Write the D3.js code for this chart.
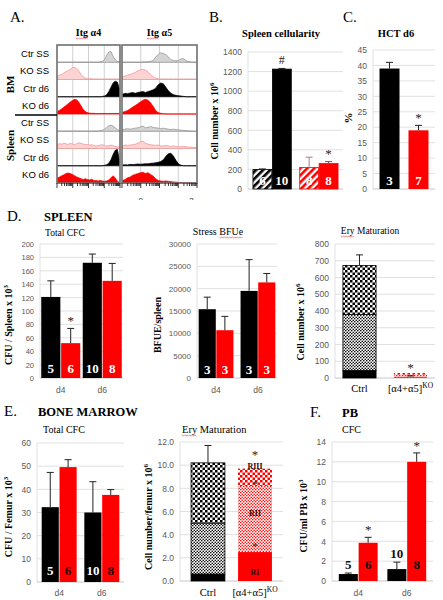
<!DOCTYPE html>
<html><head><meta charset="utf-8">
<script src="https://cdn.jsdelivr.net/npm/d3@7"></script>
<style>body{margin:0;background:#fff}svg{display:block}</style>
</head><body><svg id="c" width="443" height="600"></svg>
<script>
// ---------------- DATA ----------------
// Panel A: flow histograms (relative heights per bin)
const histMarkers = ["Itg α4", "Itg α5"];
const histRows = ["Ctr SS", "KO SS", "Ctr d6", "KO d6", "Ctr SS", "KO SS", "Ctr d6", "KO d6"];
const histTissues = ["BM", "Spleen"];
const a4BmCtrSS = [0,0,0,0,0,0,0,0,0,0,0,0,0,0,0,0,0,0,0,0,0.02,0.05,0.15,0.4,0.6,0.62,0.35,0.15,0.05,0.02];
const a4BmKoSS  = [0.2,0.25,0.3,0.38,0.45,0.52,0.6,0.68,0.7,0.62,0.48,0.3,0.15,0.08,0.05,0.04,0.04,0.03,0.03,0.03,0.03,0.03,0.03,0.03,0.03,0.03,0.03,0.03,0.03,0.03];
const a4BmCtrD6 = [0,0,0,0,0,0,0,0,0,0,0,0,0,0,0,0,0,0,0,0,0,0.02,0.05,0.12,0.3,0.55,0.8,0.9,0.85,0.45];
const a4BmKoD6  = [0.15,0.22,0.3,0.4,0.5,0.6,0.7,0.78,0.85,0.82,0.68,0.48,0.28,0.14,0.08,0.05,0.04,0.04,0.03,0.03,0.03,0.03,0.03,0.03,0.03,0.03,0.03,0.03,0.03,0.03];
const a4SpCtrSS = [0.01,0.01,0.01,0.01,0.01,0.01,0.01,0.01,0.01,0.01,0.01,0.01,0.01,0.01,0.01,0.01,0.01,0.01,0.01,0.01,0.03,0.06,0.12,0.22,0.32,0.35,0.3,0.2,0.1,0.04];
const a4SpKoSS  = [0.22,0.28,0.25,0.3,0.27,0.24,0.3,0.26,0.22,0.28,0.33,0.3,0.26,0.22,0.24,0.2,0.22,0.17,0.14,0.16,0.2,0.22,0.17,0.14,0.16,0.2,0.17,0.12,0.1,0.08];
const a4SpCtrD6 = [0,0,0,0,0,0,0,0,0,0,0,0,0,0,0,0,0,0,0,0,0,0,0.03,0.06,0.15,0.35,0.65,0.9,0.95,0.3];
const a4SpKoD6  = [0.3,0.35,0.42,0.48,0.55,0.58,0.55,0.5,0.42,0.35,0.3,0.25,0.2,0.25,0.2,0.18,0.22,0.15,0.15,0.12,0.15,0.12,0.1,0.12,0.18,0.3,0.42,0.3,0.1,0.04];
const a5BmCtrSS = [0,0,0,0,0,0,0,0,0.02,0.02,0.03,0.05,0.1,0.3,0.45,0.55,0.5,0.45,0.3,0.15,0.1,0.08,0.1,0.2,0.2,0.08,0.03,0.01,0,0];
const a5BmKoSS  = [0.15,0.2,0.25,0.3,0.35,0.42,0.5,0.55,0.6,0.55,0.45,0.3,0.15,0.07,0.04,0.03,0.03,0.03,0.03,0.03,0.03,0.03,0.03,0.03,0.03,0.03,0.03,0.03,0.03,0.03];
const a5BmCtrD6 = [0.15,0.2,0.18,0.22,0.25,0.2,0.25,0.28,0.3,0.25,0.3,0.35,0.4,0.5,0.7,0.8,0.75,0.55,0.35,0.2,0.12,0.08,0.06,0.04,0.02,0,0,0,0,0];
const a5BmKoD6  = [0.1,0.15,0.2,0.3,0.4,0.5,0.6,0.7,0.8,0.85,0.8,0.65,0.45,0.2,0.08,0.04,0.02,0,0,0,0,0,0,0,0,0,0,0,0,0];
const a5SpCtrSS = [0.1,0.12,0.15,0.12,0.15,0.18,0.2,0.25,0.3,0.2,0.22,0.28,0.22,0.2,0.18,0.15,0.18,0.15,0.12,0.1,0.12,0.1,0.08,0.06,0.05,0.03,0.02,0.01,0,0];
const a5SpKoSS  = [0.15,0.2,0.18,0.2,0.22,0.25,0.3,0.38,0.42,0.3,0.25,0.22,0.2,0.18,0.2,0.15,0.15,0.18,0.15,0.12,0.15,0.12,0.1,0.1,0.12,0.1,0.08,0.08,0.06,0.05];
const a5SpCtrD6 = [0.05,0.06,0.05,0.08,0.07,0.08,0.1,0.09,0.1,0.12,0.11,0.14,0.15,0.18,0.2,0.25,0.35,0.55,0.7,0.72,0.55,0.3,0.1,0.03,0,0,0,0,0,0];
const a5SpKoD6  = [0.15,0.2,0.3,0.35,0.45,0.5,0.55,0.6,0.62,0.55,0.6,0.5,0.4,0.25,0.15,0.12,0.1,0.12,0.1,0.08,0.06,0.05,0.03,0.02,0,0,0,0,0,0];

// Panel B: spleen cellularity
const condGroups = ["Ctr", "KO"];
const timeSeries = ["SS", "d6"];
const spleenCell = [200, 1225, 220, 260];
const spleenCellErr = [205, 1232, 325, 280];
const spleenCellN = ["6", "10", "8", "8"];
const spleenCellSig = ["", "#", "", "*"];
// Panel C: HCT d6
const hctGroups = ["Ctr", "KO"];
const hctValues = [39, 19];
const hctErr = [41, 20.6];
const hctN = ["3", "7"];
const hctSig = ["", "*"];
// Panel D: spleen
const dayGroups = ["d4", "d6"];
const genoSeries = ["Ctr", "KO"];
const spleenCfc = [121, 52, 172, 145];
const spleenCfcErr = [145, 74, 185, 171];
const spleenCfcN = ["5", "6", "10", "8"];
const spleenCfcSig = ["", "*", "", ""];
const bfue = [15400, 10700, 19500, 21400];
const bfueErr = [18100, 13800, 26500, 23400];
const bfueN = ["3", "3", "3", "3"];
const eryCats = ["Ctrl", "KO"];
const eryStages = ["RI", "RII", "RIII"];
const spleenEryCtrl = [45, 335, 292];
const spleenEryKO = [5, 16, 9];
const spleenEryErr = [735, null];
// Panel E: bone marrow
const bmCfc = [32.3, 49.6, 30, 37.6];
const bmCfcErr = [47.3, 52.8, 43.3, 39.9];
const bmCfcN = ["5", "6", "10", "8"];
const bmEryCtrl = [0.6, 4.4, 5.2];
const bmEryKO = [2.5, 5.7, 1.5];
const bmEryErr = [11.7, null];
// Panel F: PB
const pbCfc = [0.7, 3.85, 1.2, 12.0];
const pbCfcErr = [0.8, 4.4, 1.9, 12.9];
const pbCfcN = ["5", "6", "10", "8"];
const pbCfcSig = ["", "*", "", "*"];

// ---------------- SETUP ----------------
const svg = d3.select("#c");
const SERIF = "'Liberation Serif','Times New Roman',serif";
const SANS = "'Liberation Sans',Arial,sans-serif";
const RED = "#ff0000";
const STAR = "#262626";
const defs = svg.append("defs");

function stripes(id, col){
  const p = defs.append("pattern").attr("id", id).attr("patternUnits","userSpaceOnUse")
    .attr("width",5).attr("height",5).attr("patternTransform","rotate(45)");
  p.append("rect").attr("width",5).attr("height",5).attr("fill","#fff");
  p.append("rect").attr("width",2.6).attr("height",5).attr("fill",col);
}
function checker(id, col, s){
  const p = defs.append("pattern").attr("id", id).attr("patternUnits","userSpaceOnUse")
    .attr("width",2*s).attr("height",2*s);
  p.append("rect").attr("width",2*s).attr("height",2*s).attr("fill","#fff");
  p.append("rect").attr("width",s).attr("height",s).attr("fill",col);
  p.append("rect").attr("x",s).attr("y",s).attr("width",s).attr("height",s).attr("fill",col);
}
function dots(id, col){
  const p = defs.append("pattern").attr("id", id).attr("patternUnits","userSpaceOnUse")
    .attr("width",3).attr("height",3);
  p.append("rect").attr("width",3).attr("height",3).attr("fill","#fff");
  p.append("circle").attr("cx",0.75).attr("cy",0.75).attr("r",0.8).attr("fill",col);
  p.append("circle").attr("cx",2.25).attr("cy",2.25).attr("r",0.8).attr("fill",col);
}
stripes("hatchK","#000"); stripes("hatchR",RED);
checker("checkK","#000",2.5); checker("checkR",RED,2.5);
dots("dotK","#000"); dots("dotR",RED);

function txt(x, y, s, o){
  o = o || {};
  return svg.append("text").attr("x",x).attr("y",y).text(s)
    .attr("font-family", o.family || SERIF).attr("font-size", o.size || 10)
    .attr("font-weight", o.bold ? "bold" : "normal").attr("fill", o.fill || "#000")
    .attr("text-anchor", o.anchor || "start");
}
function squiggle(x1, x2, y){
  const pts = [];
  for (let x = x1, k = 0; x <= x2; x += 1.3, k++) pts.push([x, y + (k % 2 ? 0.7 : -0.7)]);
  svg.append("path").attr("d", d3.line()(pts)).attr("fill","none").attr("stroke","#e23b3b").attr("stroke-width",0.6);
}
function underlineSub(t, start, len){
  const n = t.node(); const b = n.getBBox();
  const x1 = b.x + (start > 0 ? n.getSubStringLength(0, start) : 0);
  const x2 = x1 + n.getSubStringLength(start, len);
  squiggle(x1, x2, b.y + b.height + 0.5);
}
function rotLabel(x, y, main, sup, size){
  size = size || 10;
  const t = svg.append("text").attr("transform",`translate(${x},${y}) rotate(-90)`)
    .attr("text-anchor","middle").attr("font-family",SERIF).attr("font-weight","bold")
    .attr("font-size",size).attr("fill","#000");
  t.append("tspan").attr("dy","0.35em").text(main);
  if (sup) t.append("tspan").attr("font-size",size*0.7).attr("dy",-4).text(sup);
}

// ---------------- PANEL A ----------------
const histData = [
  [a4BmCtrSS, a4BmKoSS, a4BmCtrD6, a4BmKoD6, a4SpCtrSS, a4SpKoSS, a4SpCtrD6, a4SpKoD6],
  [a5BmCtrSS, a5BmKoSS, a5BmCtrD6, a5BmKoD6, a5SpCtrSS, a5SpKoSS, a5SpCtrD6, a5SpKoD6]
];
const rowStyle = [
  {fill:"#d4d4d4", stroke:"#8c8c8c"}, {fill:"#fbd3d3", stroke:"#f08c8c"},
  {fill:"#000", stroke:"#000"}, {fill:RED, stroke:RED}
];
const aTop = 45, aBot = 183;
const aBoxes = [[57,120],[122,197]];
const rowY = d3.scaleBand().domain(d3.range(histRows.length)).range([aTop, aBot]);
const aClip = defs.append("clipPath").attr("id","aclip");
aClip.append("rect").attr("x",0).attr("y",0).attr("width",443).attr("height",200);
const gA = svg.append("g").attr("clip-path","url(#aclip)");
histMarkers.forEach((m, mi) => {
  const [bx0, bx1] = aBoxes[mi];
  const lx = d3.scaleLog().domain([1, 1e4]).range([bx0, bx1]);
  gA.selectAll(null).data([10,100,1000]).join("line")
    .attr("x1",d=>lx(d)).attr("x2",d=>lx(d)).attr("y1",aTop).attr("y2",aBot)
    .attr("stroke","#c4c4c4").attr("stroke-width",0.8);
  gA.selectAll(null).data(d3.range(1, histRows.length)).join("line")
    .attr("x1",bx0).attr("x2",bx1).attr("y1",d=>rowY(d)).attr("y2",d=>rowY(d))
    .attr("stroke","#cfcfcf").attr("stroke-width",0.8);
  histData[mi].forEach((arr, ri) => {
    const base = rowY(ri) + rowY.bandwidth();
    const hx = d3.scaleLinear().domain([0, arr.length-1]).range([bx0+0.5, bx1-0.5]);
    const hy = d3.scaleLinear().domain([0,1]).range([base, base - rowY.bandwidth()]);
    const st = rowStyle[ri % 4];
    gA.append("path").datum(arr)
      .attr("d", d3.area().x((d,i)=>hx(i)).y0(base).y1(d=>hy(d)))
      .attr("fill", st.fill).attr("stroke", st.stroke).attr("stroke-width",0.7);
  });
  gA.append("rect").attr("x",bx0).attr("y",aTop).attr("width",bx1-bx0).attr("height",aBot-aTop)
    .attr("fill","none").attr("stroke","#6e6e6e").attr("stroke-width",1.6);
  gA.selectAll(null).data(lx.ticks()).join("line")
    .attr("x1",d=>lx(d)).attr("x2",d=>lx(d)).attr("y1",aBot)
    .attr("y2",d=> Math.abs(Math.log10(d) % 1) < 1e-9 ? aBot+5 : aBot+3)
    .attr("stroke","#222").attr("stroke-width",0.9);
  const t = txt((bx0+bx1)/2, 36, m, {bold:true, size:10, anchor:"middle"});
  underlineSub(t, 0, 3);
});
function lxPos(k){ return d3.scaleLinear().domain([0,4]).range(aBoxes[1])(k); }
gA.append("text").attr("x",lxPos(1)).attr("y",203).text("0").attr("font-family",SANS).attr("font-size",8).attr("fill","#333").attr("text-anchor","middle");
gA.append("text").attr("x",lxPos(3.7)).attr("y",203).text("2").attr("font-family",SANS).attr("font-size",8).attr("fill","#333").attr("text-anchor","middle");
histRows.forEach((r, ri) => {
  txt(49, rowY(ri) + rowY.bandwidth()/2 + 3.5, r, {family:SANS, size:9.5, anchor:"end"});
});
svg.append("line").attr("x1",15).attr("x2",57).attr("y1",rowY(4)+1).attr("y2",rowY(4)+1).attr("stroke","#000").attr("stroke-width",1.4);
rotLabel(10, (rowY(0)+rowY(4))/2 + 5, histTissues[0], null, 11);
rotLabel(10, (rowY(4)+aBot)/2 - 3, histTissues[1], null, 11);
txt(10, 22, "A.", {size:15});

// ---------------- generic bar helpers ----------------
function axisFrame(c){
  const y = d3.scaleLinear().domain([0, c.max]).range([c.yBot, c.yTop]);
  const tv = d3.range(0, c.max + c.step/2, c.step);
  const g = svg.append("g");
  g.selectAll(null).data(tv.filter(v=>v>0)).join("line")
    .attr("x1",c.x0).attr("x2",c.x1).attr("y1",d=>y(d)).attr("y2",d=>y(d))
    .attr("stroke","#d9d9d9").attr("stroke-width",0.8);
  g.append("line").attr("x1",c.x0).attr("x2",c.x0).attr("y1",c.yTop).attr("y2",c.yBot)
    .attr("stroke","#d9d9d9").attr("stroke-width",0.8);
  const ax = g.append("g").attr("transform",`translate(${c.x0},0)`)
    .call(d3.axisLeft(y).tickValues(tv).tickSize(0).tickPadding(c.pad || 6).tickFormat(c.fmt || d3.format("d")));
  ax.select(".domain").remove();
  ax.selectAll("text").attr("font-family",SANS).attr("font-size",c.tickSize || 8.5).attr("fill","#595959");
  g.append("line").attr("x1",c.x0).attr("x2",c.x1).attr("y1",y(0)).attr("y2",y(0))
    .attr("stroke","#bfbfbf").attr("stroke-width",0.9);
  return y;
}
function errBar(g, cx, y1, y2, col){
  g.append("line").attr("x1",cx).attr("x2",cx).attr("y1",y1).attr("y2",y2).attr("stroke",col).attr("stroke-width",1);
  g.append("line").attr("x1",cx-3.5).attr("x2",cx+3.5).attr("y1",y2).attr("y2",y2).attr("stroke",col).attr("stroke-width",1);
}
function star(g, x, y, s, size){
  g.append("text").attr("x",x).attr("y",y).text(s).attr("text-anchor","middle")
    .attr("font-family",SERIF).attr("font-size",size || 13).attr("fill",STAR);
}
function groupedBars(c){
  const y = axisFrame(c);
  const gx = d3.scaleBand().domain(c.groups).range([c.x0, c.x1]).paddingInner(c.pin).paddingOuter(c.pout);
  const sx = d3.scaleBand().domain(c.series).range([0, gx.bandwidth()]).paddingInner(c.sgap || 0);
  const ns = c.series.length;
  const data = c.values.map((v,i)=>({v, e:c.errs[i], g:c.groups[Math.floor(i/ns)], s:c.series[i%ns], i}));
  const X = d => gx(d.g) + sx(d.s);
  const g = svg.append("g");
  g.selectAll(null).data(data).join("rect")
    .attr("x",X).attr("y",d=>y(d.v)).attr("width",sx.bandwidth()).attr("height",d=>y(0)-y(d.v))
    .attr("fill",d=>c.fills[d.i]).attr("stroke",d=>c.strokes ? c.strokes[d.i] : "none").attr("stroke-width",0.8);
  data.forEach(d => {
    const cx = X(d) + sx.bandwidth()/2;
    errBar(g, cx, y(d.v), y(d.e), c.errCols ? c.errCols[d.i] : "#222");
    if (c.ns) {
      const above = c.nPos && c.nPos[d.i] === "above";
      const ty = above ? y(d.e) - 4 : c.yBot - c.nOff;
      g.append("text").attr("x",cx).attr("y",ty).text(c.ns[d.i]).attr("text-anchor","middle")
        .attr("font-family",SERIF).attr("font-weight","bold").attr("font-size",c.nSize || 13)
        .attr("fill", c.nCols[d.i]);
    }
    if (c.sig && c.sig[d.i]) star(g, cx, y(d.e) - (c.sigOff || 3), c.sig[d.i], c.sig[d.i] === "#" ? 12 : 13);
  });
  if (c.xlab) {
    c.groups.forEach(gr => {
      g.append("text").attr("x", gx(gr) + gx.bandwidth()/2).attr("y", c.yBot + c.xlabOff).text(gr)
        .attr("text-anchor","middle").attr("font-family",SANS).attr("font-size",8.5).attr("fill","#595959");
    });
  }
  return y;
}
function catLabel(x, y, cat){
  const t = svg.append("text").attr("x",x).attr("y",y).attr("text-anchor","middle")
    .attr("font-family",SERIF).attr("font-size",10.5).attr("fill","#000");
  if (cat === "KO") {
    t.append("tspan").text("[α4+α5]");
    t.append("tspan").attr("dy",-4).attr("font-size",7.5).text("KO");
  } else t.text(cat);
}
function stackedBars(c){
  const y = axisFrame(c);
  const x = d3.scaleBand().domain(c.cats).range([c.x0, c.x1]).paddingInner(c.pin).paddingOuter(c.pout);
  const g = svg.append("g");
  const tops = [];
  c.cats.forEach((cat, ci) => {
    let cum = 0;
    const rows = c.stacks[ci].map((v,k) => { const r = {y0:cum, y1:cum+v, k}; cum += v; return r; });
    tops.push(rows);
    g.selectAll(null).data(rows).join("rect")
      .attr("x", x(cat)).attr("width", x.bandwidth())
      .attr("y", d=>y(d.y1)).attr("height", d=>y(d.y0)-y(d.y1))
      .attr("fill", d=>c.fills[ci][d.k]).attr("stroke", c.strokes[ci]).attr("stroke-width",0.8);
    if (c.errs[ci] != null) errBar(g, x(cat)+x.bandwidth()/2, y(cum), y(c.errs[ci]), "#222");
    catLabel(x(cat)+x.bandwidth()/2, c.yBot + c.catOff, cat);
  });
  return {y, x, tops, g};
}

// ---------------- PANEL B ----------------
txt(209, 22, "B.", {size:15});
txt(281, 37, "Spleen cellularity", {bold:true, size:10.5, anchor:"middle"});
rotLabel(214, 121, "Cell number x 10", "6", 10);
groupedBars({x0:248, x1:343, yTop:52, yBot:189, max:1400, step:200, tickSize:8.5,
  groups:condGroups, series:timeSeries, pin:0.18, pout:0.106, sgap:0.03,
  values:spleenCell, errs:spleenCellErr,
  fills:["url(#hatchK)","#000","url(#hatchR)",RED], strokes:["#000","#000",RED,RED],
  errCols:["#222","#222","#b07a7a","#7a5050"],
  ns:spleenCellN, nCols:["#fff","#fff","#fff","#fff"], nOff:4, sig:spleenCellSig, sigOff:4});

// ---------------- PANEL C ----------------
txt(343, 22, "C.", {size:15});
txt(396, 37, "HCT d6", {bold:true, size:10.5, anchor:"middle"});
rotLabel(348, 118, "%", null, 11);
groupedBars({x0:373, x1:435, yTop:50, yBot:189, max:45, step:5, tickSize:8.5,
  groups:hctGroups, series:["v"], pin:0.31, pout:0.225,
  values:hctValues, errs:hctErr, fills:["#000",RED],
  ns:hctN, nCols:["#fff","#fff"], nOff:4, sig:hctSig, sigOff:3});

// ---------------- PANEL D ----------------
txt(7, 221, "D.", {size:15});
txt(44, 221, "SPLEEN", {bold:true, size:12.5});
txt(45, 236, "Total CFC", {size:9.5});
rotLabel(8, 325, "CFU / Spleen x 10", "3", 10);
groupedBars({x0:40, x1:123, yTop:244, yBot:378, max:200, step:20, tickSize:7.5,
  groups:dayGroups, series:genoSeries, pin:0.06, pout:0.03, sgap:0.04,
  values:spleenCfc, errs:spleenCfcErr, fills:["#000",RED,"#000",RED],
  ns:spleenCfcN, nCols:["#fff","#fff","#fff","#fff"], nOff:5, sig:spleenCfcSig, sigOff:3,
  xlab:true, xlabOff:15});

const tb = txt(218, 235, "Stress BFUe", {size:10, anchor:"middle"});
underlineSub(tb, 7, 4);
rotLabel(157, 325, "BFUE/spleen", null, 10);
groupedBars({x0:197, x1:277, yTop:244, yBot:378, max:30000, step:5000, tickSize:8,
  groups:dayGroups, series:genoSeries, pin:0.17, pout:0.04, sgap:0.03,
  values:bfue, errs:bfueErr, fills:["#000",RED,"#000",RED],
  ns:bfueN, nCols:["#fff","#fff","#fff","#fff"], nOff:4,
  xlab:true, xlabOff:15});

const te1 = txt(370, 234, "Ery Maturation", {size:9.5, anchor:"middle"});
underlineSub(te1, 0, 3);
rotLabel(300, 322, "Cell number x 10", "6", 10);
const sD = stackedBars({x0:335, x1:435, yTop:244, yBot:378, max:800, step:100, tickSize:8.5,
  cats:eryCats, pin:0.35, pout:0.155,
  stacks:[spleenEryCtrl, spleenEryKO],
  fills:[["#000","url(#dotK)","url(#checkK)"],[RED,"url(#dotR)","url(#checkR)"]],
  strokes:["#000","none"], errs:spleenEryErr, catOff:14});
{
  const kx = sD.x("KO"), kw = sD.x.bandwidth();
  const mid = sD.tops[1][1];
  sD.g.append("line").attr("x1", kx + kw*0.4).attr("x2", kx + kw*0.6)
    .attr("y1", sD.y((mid.y0+mid.y1)/2)).attr("y2", sD.y((mid.y0+mid.y1)/2))
    .attr("stroke","#222").attr("stroke-width",1.2);
  star(sD.g, kx + kw/2, sD.y(d3.sum(spleenEryKO)) - 1, "*", 13);
}

// ---------------- PANEL E ----------------
txt(4, 416, "E.", {size:15});
txt(38, 416, "BONE MARROW", {bold:true, size:12.5});
txt(43, 433, "Total CFC", {size:10});
rotLabel(8, 517, "CFU / Femur x 10", "3", 10);
groupedBars({x0:37, x1:124, yTop:443, yBot:582, max:60, step:10, tickSize:8.5,
  groups:dayGroups, series:genoSeries, pin:0.18, pout:0.11, sgap:0.04,
  values:bmCfc, errs:bmCfcErr, fills:["#000",RED,"#000",RED],
  ns:bmCfcN, nCols:["#fff","#2a0000","#fff","#2a0000"], nOff:7,
  xlab:true, xlabOff:14});

const te2 = txt(182, 433, "Ery Maturation", {size:10.5});
underlineSub(te2, 0, 3);
rotLabel(148, 517, "Cell number/femur x 10", "6", 10);
const sE = stackedBars({x0:180, x1:283, yTop:442, yBot:581, max:12, step:2, fmt:d3.format(".1f"), tickSize:8.5,
  cats:eryCats, pin:0.28, pout:0.235,
  stacks:[bmEryCtrl, bmEryKO],
  fills:[["#000","url(#dotK)","url(#checkK)"],[RED,"url(#dotR)","url(#checkR)"]],
  strokes:["#000","none"], errs:bmEryErr, catOff:15});
const stageLabelShift = [5, -6, -11];
const stageStarShift = [-2, 2, -10];
const koCx = sE.x("KO") + sE.x.bandwidth()/2;
sE.tops[1].forEach((r, k) => {
  sE.g.append("text").attr("x", koCx).attr("y", sE.y((r.y0 + r.y1)/2) + stageLabelShift[k] + 3)
    .text(eryStages[k]).attr("text-anchor","middle").attr("font-family",SERIF).attr("font-weight","bold")
    .attr("font-size",8).attr("fill","#3a0000");
  const last = k === sE.tops[1].length - 1;
  star(sE.g, koCx, sE.y(r.y1) + stageStarShift[k], "*", last ? 13 : 11);
});

// ---------------- PANEL F ----------------
txt(310, 417, "F.", {size:15});
txt(342, 417, "PB", {bold:true, size:12.5});
txt(342, 433, "CFC", {size:10});
rotLabel(303, 516, "CFU/ml PB x 10", "3", 10);
groupedBars({x0:332, x1:433, yTop:442, yBot:581, max:14, step:2, tickSize:8.5,
  groups:dayGroups, series:genoSeries, pin:0.2, pout:0.14, sgap:0.04,
  values:pbCfc, errs:pbCfcErr, fills:["#000",RED,"#000",RED],
  ns:pbCfcN, nCols:["#111","#111","#111","#111"], nOff:12, nPos:["above","in","above","in"],
  sig:pbCfcSig, sigOff:3, xlab:true, xlabOff:15});
</script></body></html>
